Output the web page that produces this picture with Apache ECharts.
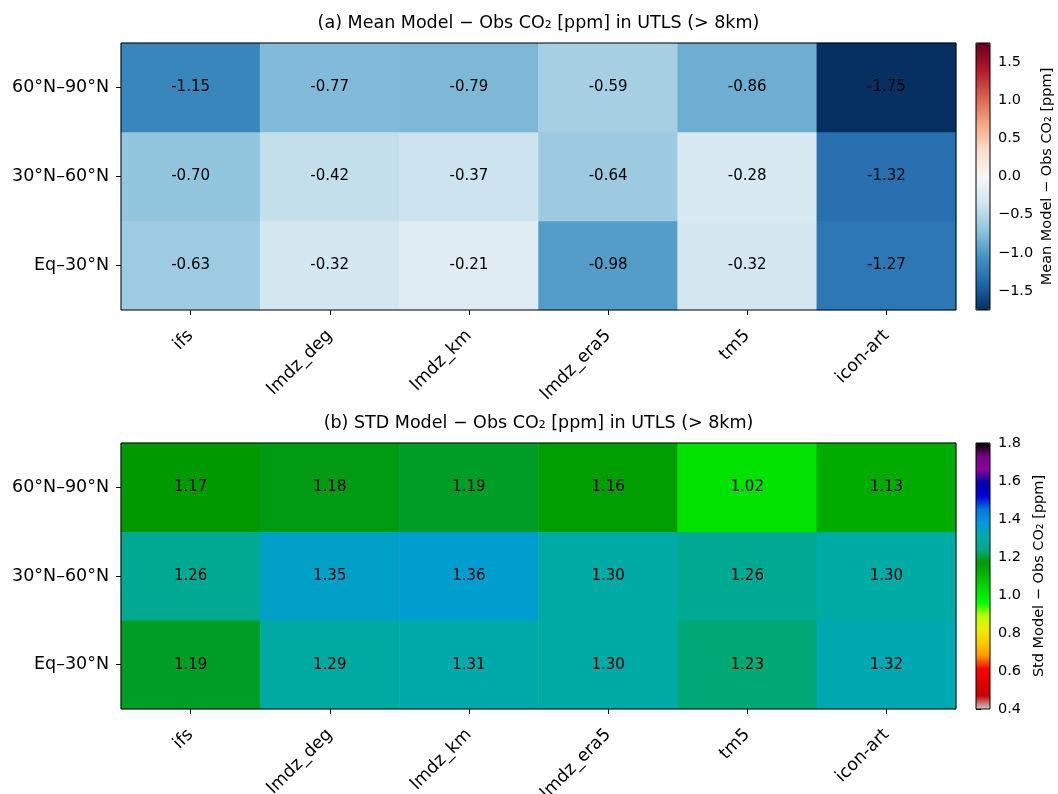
<!DOCTYPE html>
<html>
<head>
<meta charset="utf-8">
<title>UTLS CO2 model minus observation statistics</title>
<script src="https://cdn.jsdelivr.net/npm/echarts@6/dist/echarts.min.js"></script>
<style>
  html, body { margin: 0; padding: 0; background: #fff; }
  #chart { width: 1058px; height: 794px; }
</style>
</head>
<body>
<div id="chart"></div>
<script>
// Models (columns) and latitude bands (rows, listed bottom to top)
const models = ['ifs', 'lmdz_deg', 'lmdz_km', 'lmdz_era5', 'tm5', 'icon-art'];
const bands = ['Eq\u201330\u00b0N', '30\u00b0N\u201360\u00b0N', '60\u00b0N\u201390\u00b0N'];

// Mean model minus observation CO2 [ppm], one array per band, ordered like `models`
const meanEq30 = [-0.63, -0.32, -0.21, -0.98, -0.32, -1.27];
const mean30_60 = [-0.70, -0.42, -0.37, -0.64, -0.28, -1.32];
const mean60_90 = [-1.15, -0.77, -0.79, -0.59, -0.86, -1.75];

// Standard deviation of model minus observation CO2 [ppm]
const stdEq30 = [1.19, 1.29, 1.31, 1.30, 1.23, 1.32];
const std30_60 = [1.26, 1.35, 1.36, 1.30, 1.26, 1.30];
const std60_90 = [1.17, 1.18, 1.19, 1.16, 1.02, 1.13];

// Colour bar ranges and tick values
const meanRange = [-1.75, 1.75];
const meanTicks = [-1.5, -1.0, -0.5, 0.0, 0.5, 1.0, 1.5];
const stdRange = [0.4, 1.8];
const stdTickStep = 0.2;

// Diverging red/blue palette (low -> high)
const rdBuR = ['#053061', '#2166ac', '#4393c3', '#92c5de', '#d1e5f0', '#f7f7f7',
               '#fddbc7', '#f4a582', '#d6604d', '#b2182b', '#67001f'];

// Spectral palette, stops every 0.05 from high (black) to low (grey)
const spectralStops = [
  [0.0, 0.0, 0.0], [0.4667, 0.0, 0.5333], [0.5333, 0.0, 0.6], [0.0, 0.0, 0.6667],
  [0.0, 0.0, 0.8667], [0.0, 0.4667, 0.8667], [0.0, 0.6, 0.8667], [0.0, 0.6667, 0.6667],
  [0.0, 0.6667, 0.5333], [0.0, 0.6, 0.0], [0.0, 0.7333, 0.0], [0.0, 0.8667, 0.0],
  [0.0, 1.0, 0.0], [0.7333, 1.0, 0.0], [0.9333, 0.9333, 0.0], [1.0, 0.8, 0.0],
  [1.0, 0.6, 0.0], [1.0, 0.0, 0.0], [0.8667, 0.0, 0.0], [0.8, 0.0, 0.0], [0.8, 0.8, 0.8]
];
const spectralLowHigh = spectralStops.slice().reverse().map(c =>
  'rgb(' + c.map(v => Math.round(v * 255)).join(',') + ')');

function toCells(rows) {
  const cells = [];
  rows.forEach((row, y) => row.forEach((v, x) => cells.push([x, y, v])));
  return cells;
}
const meanCells = toCells([meanEq30, mean30_60, mean60_90]);
const stdCells = toCells([stdEq30, std30_60, std60_90]);

const FONT = 'DejaVu Sans';
const TICK_SIZE = 17.5;
const CELL_SIZE = 15;
const BAR_SIZE = 14.5;
const TITLE_SIZE = 17.5;
const minus = s => s.replace('-', '\u2212');

const panelTop = { left: 121, top: 43, width: 835, height: 267 };
const panelBot = { left: 121, top: 443, width: 835, height: 266 };
const barTop = { left: 976, top: 43, width: 14, height: 267 };
const barBot = { left: 976, top: 443, width: 14, height: 266 };

// Fixed plot rectangles with a thin black frame drawn above the cells
function frame(g) {
  return Object.assign({ show: true, borderColor: '#000', borderWidth: 1,
    backgroundColor: 'transparent', z: 10, containLabel: false,
    outerBoundsMode: 'none' }, g);
}

function catX(gridIndex) {
  return {
    type: 'category', gridIndex, data: models,
    axisLine: { show: false },
    axisTick: { show: true, alignWithLabel: true, length: 5, lineStyle: { color: '#000' } },
    axisLabel: { rotate: 45, margin: 23, fontFamily: FONT, fontSize: TICK_SIZE, color: '#000' },
    splitLine: { show: false }
  };
}
function catY(gridIndex) {
  return {
    type: 'category', gridIndex, data: bands,
    axisLine: { show: false },
    axisTick: { show: true, alignWithLabel: true, length: 5, lineStyle: { color: '#000' } },
    axisLabel: { margin: 12, fontFamily: FONT, fontSize: TICK_SIZE, color: '#000' },
    splitLine: { show: false }
  };
}
function barX(gridIndex) {
  return { type: 'value', gridIndex, show: false, min: 0, max: 1 };
}

const cellLabel = {
  show: true, fontFamily: FONT, fontSize: CELL_SIZE, color: '#000',
  formatter: p => p.value[2].toFixed(2)
};

function titleText(x, y, text) {
  return { type: 'text', x, y,
    style: { text, font: TITLE_SIZE + 'px "DejaVu Sans"', fill: '#000',
      textAlign: 'center', textVerticalAlign: 'middle', align: 'center', verticalAlign: 'middle' } };
}

const option = {
  backgroundColor: '#fff',
  animation: false,
  grid: [frame(panelTop), frame(panelBot), frame(barTop), frame(barBot)],
  xAxis: [catX(0), catX(1), barX(2), barX(3)],
  yAxis: [
    catY(0), catY(1),
    {
      type: 'value', gridIndex: 2, position: 'right',
      min: meanRange[0], max: meanRange[1],
      axisLine: { show: false },
      axisTick: { show: true, length: 5, customValues: meanTicks, lineStyle: { color: '#000' } },
      axisLabel: { margin: 8, fontFamily: FONT, fontSize: BAR_SIZE, color: '#000',
        customValues: meanTicks, formatter: v => minus(v.toFixed(1)) },
      splitLine: { show: false },
      name: 'Mean Model \u2212 Obs CO\u2082 [ppm]',
      nameLocation: 'middle', nameRotate: 90, nameGap: 50,
      nameTextStyle: { fontFamily: FONT, fontSize: BAR_SIZE, color: '#000' }
    },
    {
      type: 'value', gridIndex: 3, position: 'right',
      min: stdRange[0], max: stdRange[1], interval: stdTickStep,
      axisLine: { show: false },
      axisTick: { show: true, length: 5, lineStyle: { color: '#000' } },
      axisLabel: { margin: 8, fontFamily: FONT, fontSize: BAR_SIZE, color: '#000',
        formatter: v => v.toFixed(1) },
      splitLine: { show: false },
      name: 'Std Model \u2212 Obs CO\u2082 [ppm]',
      nameLocation: 'middle', nameRotate: 90, nameGap: 42,
      nameTextStyle: { fontFamily: FONT, fontSize: BAR_SIZE, color: '#000' }
    }
  ],
  visualMap: [
    {
      type: 'continuous', seriesIndex: 0, min: meanRange[0], max: meanRange[1],
      inRange: { color: rdBuR }, calculable: false, orient: 'vertical',
      left: barTop.left, top: barTop.top, padding: 0,
      itemWidth: barTop.width, itemHeight: barTop.height, text: null, hoverLink: false
    },
    {
      type: 'continuous', seriesIndex: 1, min: stdRange[0], max: stdRange[1],
      inRange: { color: spectralLowHigh }, calculable: false, orient: 'vertical',
      left: barBot.left, top: barBot.top, padding: 0,
      itemWidth: barBot.width, itemHeight: barBot.height, text: null, hoverLink: false
    }
  ],
  graphic: [
    titleText(538.5, 23, '(a) Mean Model \u2212 Obs CO\u2082 [ppm] in UTLS (> 8km)'),
    titleText(538.5, 423, '(b) STD Model \u2212 Obs CO\u2082 [ppm] in UTLS (> 8km)')
  ],
  series: [
    { type: 'heatmap', xAxisIndex: 0, yAxisIndex: 0, data: meanCells, label: cellLabel,
      itemStyle: { borderWidth: 0 }, emphasis: { disabled: true } },
    { type: 'heatmap', xAxisIndex: 1, yAxisIndex: 1, data: stdCells, label: cellLabel,
      itemStyle: { borderWidth: 0 }, emphasis: { disabled: true } }
  ]
};

const chart = echarts.init(document.getElementById('chart'), null, { renderer: 'canvas' });
chart.setOption(option);
</script>
</body>
</html>
